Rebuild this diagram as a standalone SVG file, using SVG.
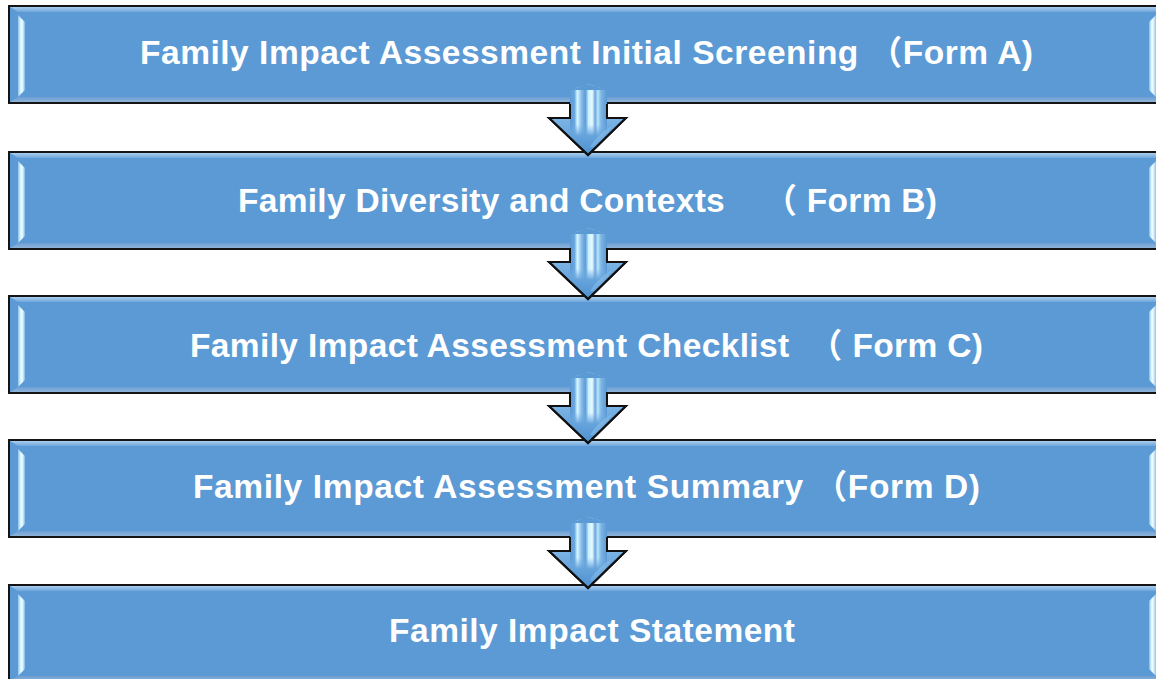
<svg xmlns="http://www.w3.org/2000/svg" xmlns:xlink="http://www.w3.org/1999/xlink" width="1156" height="679" viewBox="0 0 1156 679">
<defs>
<style>
.face{fill:#5b9ad5;stroke:#141414;stroke-width:2}
.lbl{font-family:"Liberation Sans",Arial,"Noto Sans CJK SC",sans-serif;font-weight:bold;font-size:33.5px;fill:#ffffff;white-space:pre}
.aout{fill:url(#headG);stroke:#111;stroke-width:2;stroke-linejoin:miter}
</style>
<linearGradient id="topG" x1="0" y1="0" x2="0" y2="1">
<stop offset="0" stop-color="#a9cdee"/><stop offset="1" stop-color="#6fa6dc"/>
</linearGradient>
<linearGradient id="botG" x1="0" y1="0" x2="0" y2="1">
<stop offset="0" stop-color="#6c9fd3"/><stop offset="1" stop-color="#8fb3da"/>
</linearGradient>
<linearGradient id="hiG" x1="0" y1="0" x2="1" y2="0">
<stop offset="0" stop-color="#8cc4f0"/><stop offset="0.45" stop-color="#f2fdff"/><stop offset="0.7" stop-color="#d6f4ff"/><stop offset="1" stop-color="#7fb6e6"/>
</linearGradient>
<linearGradient id="hiR" x1="1" y1="0" x2="0" y2="0">
<stop offset="0" stop-color="#8cc4f0"/><stop offset="0.45" stop-color="#f2fdff"/><stop offset="0.7" stop-color="#d6f4ff"/><stop offset="1" stop-color="#7fb6e6"/>
</linearGradient>
<linearGradient id="headG" x1="0" y1="0" x2="0" y2="1">
<stop offset="0" stop-color="#8ec2ec"/><stop offset="0.5" stop-color="#6eaae0"/><stop offset="1" stop-color="#4d8fcf"/>
</linearGradient>
<linearGradient id="stripeG" x1="0" y1="0" x2="1" y2="0">
<stop offset="0" stop-color="#5d9bd6"/><stop offset="0.12" stop-color="#6aa7de"/>
<stop offset="0.2" stop-color="#d8f6ff"/><stop offset="0.32" stop-color="#7fb7e6"/>
<stop offset="0.42" stop-color="#5f9dd7"/><stop offset="0.5" stop-color="#c9efff"/>
<stop offset="0.6" stop-color="#e8fbff"/><stop offset="0.68" stop-color="#6aa6dd"/>
<stop offset="0.75" stop-color="#b9e5fb"/><stop offset="0.84" stop-color="#7db5e5"/>
<stop offset="1" stop-color="#5a98d3"/>
</linearGradient>
<linearGradient id="fadeG" x1="0" y1="0" x2="0" y2="1">
<stop offset="0" stop-color="#fff" stop-opacity="1"/><stop offset="0.75" stop-color="#fff" stop-opacity="1"/><stop offset="1" stop-color="#fff" stop-opacity="0"/>
</linearGradient>
<mask id="fadeM" maskContentUnits="objectBoundingBox">
<rect x="0" y="0" width="1" height="1" fill="url(#fadeG)"/>
</mask>
<linearGradient id="curlG" x1="0" y1="0" x2="1" y2="1">
<stop offset="0" stop-color="#b8e2fb" stop-opacity="0.9"/><stop offset="1" stop-color="#6aa8de" stop-opacity="0"/>
</linearGradient>
<g id="box">
<rect class="face" x="9" y="0" width="1160" height="97"/>
<polygon points="10,1 1168,1 1160,6 18,6" fill="url(#topG)"/>
<polygon points="10,96 1168,96 1160,91 18,91" fill="url(#botG)"/>
<polygon points="18,9 25,16 25,84 18,91" fill="url(#hiG)"/>
<polygon points="1156,9 1149,16 1149,84 1156,91" fill="url(#hiR)"/>
</g>
<g id="arrow">
<polygon points="570,-14 588.5,-20 607,-14 607,30 570,30" fill="url(#stripeG)"/>
<path class="aout" d="M570,0 L570,14 L549,14 L588,51 L626,14 L607,14 L607,0"/>
<g mask="url(#fadeM)"><rect x="570" y="-14" width="37" height="46" fill="url(#stripeG)"/></g>
<polygon points="570,-14 588.5,-20 607,-14" fill="#5b9ad5"/>
<path d="M590,43 Q598,30 612,22 Q604,34 598,44 Z" fill="url(#curlG)"/>
<path d="M570,0 L570,14 L549,14 L588,51 L626,14 L607,14 L607,0" fill="none" stroke="#111" stroke-width="2"/>
</g>
</defs>

<g id="node-a">
<use xlink:href="#box" href="#box" transform="translate(0,6)"/>
<text class="lbl" x="140" y="64" textLength="893" lengthAdjust="spacing">Family Impact Assessment Initial Screening （Form A)</text>
</g>
<g id="node-b">
<use xlink:href="#box" href="#box" transform="translate(0,152)"/>
<text class="lbl" x="238" y="212" textLength="699" lengthAdjust="spacing">Family Diversity and Contexts    （ Form B)</text>
</g>
<g id="node-c">
<use xlink:href="#box" href="#box" transform="translate(0,296)"/>
<text class="lbl" x="190" y="357" textLength="793" lengthAdjust="spacing">Family Impact Assessment Checklist  （ Form C)</text>
</g>
<g id="node-d">
<use xlink:href="#box" href="#box" transform="translate(0,440)"/>
<text class="lbl" x="193" y="498" textLength="787" lengthAdjust="spacing">Family Impact Assessment Summary （Form D)</text>
</g>
<g id="node-e">
<use xlink:href="#box" href="#box" transform="translate(0,585)"/>
<text class="lbl" x="389" y="642" textLength="406" lengthAdjust="spacing">Family Impact Statement</text>
</g>

<g id="connectors">
<use xlink:href="#arrow" href="#arrow" transform="translate(0,104)"/>
<use xlink:href="#arrow" href="#arrow" transform="translate(0,248)"/>
<use xlink:href="#arrow" href="#arrow" transform="translate(0,392)"/>
<use xlink:href="#arrow" href="#arrow" transform="translate(0,537)"/>
</g>
</svg>
